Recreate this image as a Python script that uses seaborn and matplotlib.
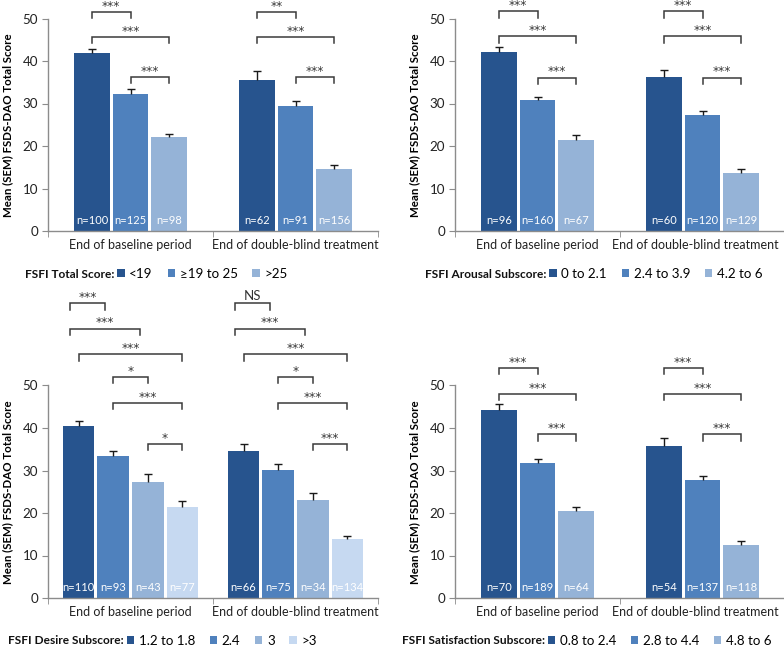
import numpy as np
import pandas as pd
import seaborn as sns
import matplotlib
import matplotlib.pyplot as plt
import matplotlib.transforms as mtransforms
from matplotlib.patches import Patch

matplotlib.use('Agg')

plt.rcParams['font.family'] = ['Lato', 'DejaVu Sans']

periods = ['End of baseline period', 'End of double-blind treatment']

# FSFI Total Score
total_groups = ['<19', '≥19 to 25', '>25']
total_base_mean = [41.8, 32.3, 22.1]
total_base_sem = [1.1, 1.0, 0.8]
total_base_n = [100, 125, 98]
total_db_mean = [35.6, 29.4, 14.6]
total_db_sem = [2.0, 1.3, 0.9]
total_db_n = [62, 91, 156]

# FSFI Arousal Subscore
arousal_groups = ['0 to 2.1', '2.4 to 3.9', '4.2 to 6']
arousal_base_mean = [42.2, 30.8, 21.5]
arousal_base_sem = [1.2, 0.8, 1.2]
arousal_base_n = [96, 160, 67]
arousal_db_mean = [36.2, 27.2, 13.6]
arousal_db_sem = [1.8, 1.1, 1.1]
arousal_db_n = [60, 120, 129]

# FSFI Desire Subscore
desire_groups = ['1.2 to 1.8', '2.4', '3', '>3']
desire_base_mean = [40.5, 33.3, 27.4, 21.5]
desire_base_sem = [1.2, 1.2, 1.7, 1.3]
desire_base_n = [110, 93, 43, 77]
desire_db_mean = [34.6, 30.2, 23.1, 13.8]
desire_db_sem = [1.7, 1.3, 1.7, 0.9]
desire_db_n = [66, 75, 34, 134]

# FSFI Satisfaction Subscore
satis_groups = ['0.8 to 2.4', '2.8 to 4.4', '4.8 to 6']
satis_base_mean = [44.2, 31.8, 20.5]
satis_base_sem = [1.4, 1.0, 1.0]
satis_base_n = [70, 189, 64]
satis_db_mean = [35.7, 27.7, 12.4]
satis_db_sem = [2.0, 1.1, 1.1]
satis_db_n = [54, 137, 118]

# significance brackets: (period, bar i, bar j, level, label, x shift)
total_brackets = [
    (0, 0, 1, 51.6, '***', 0), (0, 0, 2, 45.7, '***', 0), (0, 1, 2, 36.3, '***', 0),
    (1, 0, 1, 51.6, '**', 0), (1, 0, 2, 45.7, '***', 0), (1, 1, 2, 36.3, '***', 0),
]
arousal_brackets = [
    (0, 0, 1, 51.7, '***', 0), (0, 0, 2, 45.8, '***', 0), (0, 1, 2, 36.1, '***', 0),
    (1, 0, 1, 51.7, '***', 0), (1, 0, 2, 45.8, '***', 0), (1, 1, 2, 36.1, '***', 0),
]
desire_brackets = [
    (0, 0, 1, 69.3, '***', -0.05), (0, 0, 2, 63.4, '***', -0.05), (0, 0, 3, 57.3, '***', 0),
    (0, 1, 2, 52.0, '*', 0), (0, 1, 3, 45.9, '***', 0), (0, 2, 3, 36.3, '*', 0),
    (1, 0, 1, 69.3, 'NS', -0.05), (1, 0, 2, 63.4, '***', -0.05), (1, 0, 3, 57.3, '***', 0),
    (1, 1, 2, 52.0, '*', 0), (1, 1, 3, 45.9, '***', 0), (1, 2, 3, 36.3, '***', 0),
]
satis_brackets = [
    (0, 0, 1, 54.1, '***', 0), (0, 0, 2, 48.0, '***', 0), (0, 1, 2, 38.5, '***', 0),
    (1, 0, 1, 54.1, '***', 0), (1, 0, 2, 48.0, '***', 0), (1, 1, 2, 38.5, '***', 0),
]

blues = ['#27548E', '#4F81BD', '#95B3D7', '#C6D9F1']
line_col = '#3a3a3a'
axis_col = '#8c8c8c'

W, H = 784, 646
fig = plt.figure(figsize=(W / 100, H / 100), dpi=100)

panels = [
    dict(rect=(48, 231), title='FSFI Total Score:', groups=total_groups,
         mean=(total_base_mean, total_db_mean), sem=(total_base_sem, total_db_sem),
         n=(total_base_n, total_db_n), brackets=total_brackets, leg=(25, 274)),
    dict(rect=(455, 231), title='FSFI Arousal Subscore:', groups=arousal_groups,
         mean=(arousal_base_mean, arousal_db_mean), sem=(arousal_base_sem, arousal_db_sem),
         n=(arousal_base_n, arousal_db_n), brackets=arousal_brackets, leg=(425, 274)),
    dict(rect=(48, 598), title='FSFI Desire Subscore:', groups=desire_groups,
         mean=(desire_base_mean, desire_db_mean), sem=(desire_base_sem, desire_db_sem),
         n=(desire_base_n, desire_db_n), brackets=desire_brackets, leg=(8, 641)),
    dict(rect=(455, 598), title='FSFI Satisfaction Subscore:', groups=satis_groups,
         mean=(satis_base_mean, satis_db_mean), sem=(satis_base_sem, satis_db_sem),
         n=(satis_base_n, satis_db_n), brackets=satis_brackets, leg=(402, 641)),
]

for p in panels:
    x0, y0 = p['rect']
    ax = fig.add_axes([x0 / W, 1 - y0 / H, 330 / W, 212.5 / H])
    groups = p['groups']
    k = len(groups)
    colors = blues[:k]

    df = pd.DataFrame({
        'period': np.repeat(periods, k),
        'group': groups * 2,
        'mean': list(p['mean'][0]) + list(p['mean'][1]),
        'sem': list(p['sem'][0]) + list(p['sem'][1]),
        'n': list(p['n'][0]) + list(p['n'][1]),
    })

    sns.barplot(data=df, x='period', y='mean', hue='group', order=periods,
                hue_order=groups, palette=colors, saturation=1,
                width=0.70 if k == 3 else 0.84, gap=0.09 if k == 3 else 0.08,
                errorbar=None, legend=False, ax=ax)

    # bar centres per period / group from the drawn bars
    centers = np.zeros((2, k))
    for gi, cont in enumerate(ax.containers):
        bars = sorted(cont, key=lambda b: b.get_x())
        for pi, b in enumerate(bars):
            centers[pi, gi] = b.get_x() + b.get_width() / 2

    for pi in range(2):
        sub = df[df['period'] == periods[pi]]
        eb = ax.errorbar(centers[pi], sub['mean'], yerr=[np.zeros(k), sub['sem']],
                         fmt='none', ecolor='#1a1a1a', elinewidth=1.0,
                         capsize=2.6, capthick=1.0, zorder=3)
        eb[1][0].set_visible(False)  # only the upper cap, like the original
        for gi in range(k):
            ax.text(centers[pi, gi], 2.5, f"n={sub['n'].iloc[gi]}", color='white',
                    ha='center', va='center', fontsize=8.0, zorder=4)

    for (pi, i, j, level, label, shift) in p['brackets']:
        xi = centers[pi, i] + shift
        xj = centers[pi, j] + shift
        ax.plot([xi, xi, xj, xj], [level - 1.5, level, level, level - 1.5],
                color=line_col, lw=1.1, clip_on=False, solid_joinstyle='miter')
        if label == 'NS':
            ax.text((xi + xj) / 2, level + 0.3, label, ha='center', va='bottom',
                    fontsize=9.5, color='#333333', clip_on=False)
        else:
            ax.text((xi + xj) / 2, level - 0.2, label, ha='center', va='bottom',
                    fontsize=8.8, color='#333333', clip_on=False, family='DejaVu Sans')

    ax.set_ylim(0, 50)
    ax.set_yticks(range(0, 51, 10))
    ax.set_xlim(-0.5, 1.5)
    ax.set_xticks([0, 1])
    ax.set_xticklabels(periods)
    ax.set_xticks([-0.5, 0.5, 1.5], minor=True)
    ax.tick_params(axis='x', which='major', length=0, pad=6, labelsize=9.0, labelcolor='#222222')
    ax.tick_params(axis='x', which='minor', length=4, color=axis_col, direction='out')
    ax.tick_params(axis='y', length=4, color=axis_col, labelsize=9.6, labelcolor='#222222', pad=3)
    ax.set_xlabel('')
    ax.set_ylabel('Mean (SEM) FSDS-DAO Total Score', fontsize=8.3, fontweight='bold')
    ax.yaxis.set_label_coords(-0.105, 0.5)
    for s in ['top', 'right']:
        ax.spines[s].set_visible(False)
    for s in ['left', 'bottom']:
        ax.spines[s].set_color(axis_col)
        ax.spines[s].set_linewidth(1.0)
    ax.set_facecolor('none')

    # right column: pull the long category label in so it stays on the canvas
    if x0 > W / 2:
        lab = ax.get_xticklabels()[1]
        lab.set_transform(lab.get_transform() +
                          mtransforms.ScaledTranslation(-0.07, 0, fig.dpi_scale_trans))

    # legend: bold title text, then coloured squares
    lx, ly = p['leg']
    t = fig.text(lx / W, 1 - ly / H, p['title'], fontsize=8.6, fontweight='bold',
                 ha='left', va='center', color='#111111')
    fig.canvas.draw()
    tb = t.get_window_extent()
    handles = [Patch(facecolor=c, edgecolor='none') for c in colors]
    fig.legend(handles, groups, loc='center left',
               bbox_to_anchor=((tb.x1 + 3) / W, 1 - ly / H), ncol=k, frameon=False,
               fontsize=9.6, handlelength=0.55, handleheight=0.55, handletextpad=0.35,
               columnspacing=1.1, borderpad=0, borderaxespad=0)

fig.savefig('out.png', dpi=100)
